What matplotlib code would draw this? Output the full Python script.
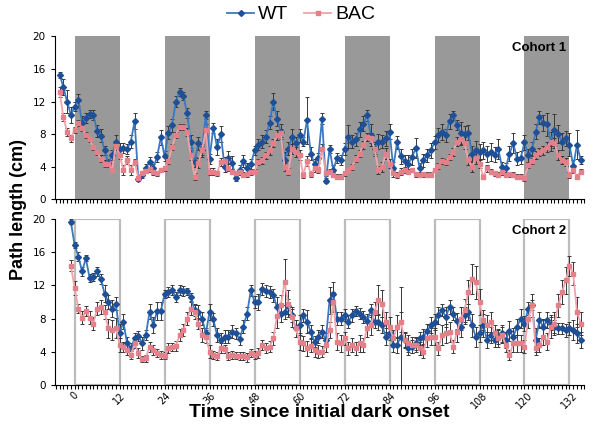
"""Hourly path length for WT and BAC mice, two cohorts."""

import numpy as np
from matplotlib import pyplot as plt
from matplotlib.patches import Rectangle
from matplotlib.ticker import MultipleLocator

plt.switch_backend("Agg")

# hours since first dark onset (cohort 1 starts at -4 h, cohort 2 at -1 h)
hours_c1 = np.arange(-4, 136)
hours_c2 = np.arange(-1, 136)
dark_starts = [0, 24, 48, 72, 96, 120]
dark_len = 12
tick_hours = [0, 12, 24, 36, 48, 60, 72, 84, 96, 108, 120, 132]

wt_c1 = [15.3, 13.8, 12.0, 10.4,
         11.4, 12.2, 9.4, 10.0, 10.5, 10.4, 8.4, 7.8, 6.0, 4.5, 5.4, 7.1,
         6.2, 6.3, 6.2, 7.1, 9.6, 2.5, 3.0, 3.8, 4.6, 3.9, 5.2, 7.6,
         5.3, 8.2, 9.1, 12.0, 13.2, 12.7, 10.6, 7.1, 4.6, 6.9, 6.0, 10.4,
         5.0, 8.8, 6.4, 8.0, 4.0, 5.1, 4.5, 2.6, 3.6, 4.7, 3.9, 4.3,
         6.0, 6.7, 7.1, 7.7, 9.4, 12.0, 9.9, 8.3, 4.8, 6.2, 7.7, 6.9,
         7.9, 7.1, 9.7, 5.6, 4.4, 5.1, 9.9, 2.3, 6.2, 3.6, 5.1, 4.8,
         6.2, 7.7, 7.1, 7.4, 8.6, 9.3, 10.3, 7.9, 6.2, 7.1, 7.1, 7.5,
         8.3, 3.9, 7.0, 5.3, 4.7, 4.4, 5.2, 6.3, 3.9, 4.8, 5.4, 6.0,
         7.0, 7.9, 8.3, 7.9, 9.6, 10.3, 9.1, 8.1, 8.0, 8.2, 5.6, 6.0,
         5.8, 6.0, 5.6, 5.8, 5.5, 6.2, 4.0, 3.9, 5.6, 6.9, 5.0, 5.1,
         7.0, 5.4, 6.2, 8.3, 10.1, 9.4, 9.2, 7.1, 8.5, 8.0, 7.1, 7.5,
         6.7, 4.1, 6.7, 4.8]
wt_c1_err = [0.4, 1.0, 1.4, 1.0,
             0.6, 0.7, 0.8, 0.6, 0.5, 0.6, 0.7, 0.8, 0.6, 0.5, 0.6, 0.8,
             0.7, 0.6, 0.6, 0.8, 1.0, 0.3, 0.4, 0.5, 0.6, 0.5, 0.6, 0.9,
             0.6, 0.8, 0.8, 0.7, 0.5, 0.5, 0.6, 0.8, 0.6, 0.8, 0.8, 0.5,
             0.6, 0.6, 1.0, 1.0, 0.6, 0.8, 0.8, 0.4, 0.6, 0.7, 0.6, 0.6,
             0.6, 0.7, 0.8, 0.8, 0.8, 1.0, 0.9, 0.9, 1.0, 0.8, 0.9, 0.8,
             0.8, 0.6, 2.9, 0.8, 0.6, 0.6, 0.7, 0.3, 0.5, 0.6, 0.6, 0.6,
             0.7, 1.4, 0.8, 0.8, 0.9, 0.9, 0.7, 1.3, 0.9, 0.9, 0.8, 0.9,
             0.9, 0.7, 0.8, 0.9, 0.8, 1.0, 1.0, 1.2, 0.6, 0.8, 0.8, 0.9,
             0.8, 0.9, 1.0, 0.8, 0.9, 0.5, 0.6, 1.4, 1.0, 0.9, 0.9, 1.2,
             1.0, 1.1, 1.0, 1.1, 0.9, 1.2, 0.6, 0.6, 0.9, 1.2, 0.8, 0.8,
             0.9, 0.8, 0.9, 0.9, 0.8, 1.0, 1.4, 1.2, 2.0, 1.1, 1.0, 0.9,
             1.4, 0.7, 1.8, 0.5]
bac_c1 = [13.2, 10.1, 8.3, 7.5,
          8.5, 9.4, 8.8, 7.9, 7.4, 6.4, 5.8, 5.0, 4.4, 4.3, 3.6, 6.6,
          5.5, 3.6, 4.8, 3.6, 4.6, 2.6, 3.2, 3.5, 3.7, 3.3, 3.2, 3.6,
          3.8, 4.7, 6.4, 7.9, 8.9, 8.9, 8.3, 5.4, 2.8, 4.5, 6.0, 8.5,
          3.4, 3.4, 3.2, 4.6, 4.7, 3.9, 3.4, 3.2, 3.4, 3.0, 3.1, 3.3,
          3.4, 4.6, 4.8, 5.4, 6.0, 6.9, 7.9, 8.1, 4.0, 3.4, 6.2, 5.8,
          5.4, 3.0, 4.7, 3.1, 3.8, 3.6, 6.2, 3.2, 3.4, 3.0, 2.8, 2.8,
          3.2, 3.6, 4.0, 5.0, 5.6, 6.7, 7.7, 7.5, 6.2, 3.6, 4.0, 5.6,
          4.4, 3.2, 3.0, 3.4, 3.6, 3.4, 3.6, 3.1, 3.0, 3.1, 3.0, 3.0,
          3.6, 4.1, 4.7, 4.6, 5.2, 5.8, 7.1, 7.4, 6.9, 4.8, 4.0, 5.1,
          4.4, 2.8, 3.8, 3.4, 3.2, 3.0, 3.3, 3.0, 3.1, 3.0, 2.8, 2.8,
          2.6, 4.2, 4.7, 5.4, 5.8, 6.0, 6.4, 7.1, 6.9, 5.4, 4.8, 4.6,
          3.0, 3.6, 2.8, 3.4]
bac_c1_err = [0.6, 0.5, 0.5, 0.4,
              0.4, 0.4, 0.4, 0.4, 0.3, 0.3, 0.3, 0.4, 0.4, 0.3, 0.3, 0.6,
              0.5, 0.6, 0.5, 0.6, 0.4, 0.3, 0.3, 0.3, 0.3, 0.3, 0.3, 0.3,
              0.3, 0.4, 0.4, 0.4, 0.4, 0.4, 0.5, 0.6, 0.4, 0.6, 0.6, 0.7,
              0.4, 0.4, 0.3, 0.5, 0.5, 0.4, 0.3, 0.3, 0.3, 0.3, 0.3, 0.3,
              0.3, 0.4, 0.4, 0.4, 0.5, 0.5, 0.6, 0.5, 0.5, 0.4, 0.6, 0.6,
              0.6, 0.4, 0.6, 0.4, 0.4, 0.4, 0.6, 0.3, 0.3, 0.3, 0.3, 0.3,
              0.3, 0.3, 0.4, 0.4, 0.4, 0.5, 0.5, 0.6, 0.6, 0.5, 0.6, 0.7,
              0.6, 0.4, 0.4, 0.4, 0.4, 0.3, 0.3, 0.3, 0.3, 0.3, 0.3, 0.3,
              0.3, 0.4, 0.4, 0.4, 0.4, 0.5, 0.6, 0.6, 0.7, 0.6, 0.6, 0.7,
              0.6, 0.3, 0.4, 0.3, 0.3, 0.3, 0.3, 0.3, 0.3, 0.3, 0.3, 0.3,
              0.3, 0.4, 0.4, 0.5, 0.5, 0.5, 0.6, 0.6, 0.6, 0.6, 0.5, 0.5,
              0.4, 0.4, 0.3, 0.3]

wt_c2 = [19.7,
         16.9, 15.5, 13.7, 15.3, 12.9, 13.0, 13.7, 12.8, 11.0, 10.0, 9.2, 9.8,
         6.2, 7.6, 5.0, 4.4, 5.6, 5.9, 5.0, 6.0, 8.8, 7.2, 8.9, 8.9,
         11.0, 11.2, 11.4, 10.6, 11.4, 11.3, 11.3, 10.6, 9.0, 8.8, 8.0, 6.2,
         8.8, 7.9, 6.0, 5.4, 5.8, 5.8, 6.4, 6.2, 5.5, 7.0, 8.6, 11.4,
         10.0, 10.0, 11.6, 11.3, 11.2, 10.8, 9.4, 8.6, 8.8, 9.5, 8.4, 6.8,
         7.2, 8.4, 7.6, 6.4, 5.2, 5.8, 6.4, 5.4, 10.2, 11.0, 8.0, 8.0,
         8.4, 7.6, 8.4, 8.9, 8.6, 8.2, 7.7, 9.0, 7.6, 7.6, 7.2, 5.8,
         6.2, 4.8, 4.8, 5.8, 5.4, 4.4, 4.6, 5.0, 5.6, 5.8, 6.5, 7.2,
         7.6, 8.4, 9.0, 8.2, 9.4, 8.6, 7.7, 7.0, 8.4, 8.8, 7.2, 5.8,
         6.2, 7.2, 5.4, 6.0, 5.4, 5.8, 6.2, 5.4, 6.5, 5.8, 7.0, 8.0,
         7.4, 9.2, 9.6, 5.4, 7.8, 7.0, 7.8, 7.4, 7.0, 6.8, 6.8, 6.6,
         6.8, 6.6, 6.2, 5.4]
wt_c2_err = [0.3,
             0.4, 0.6, 0.5, 0.4, 0.5, 0.5, 0.5, 0.6, 1.0, 0.9, 1.0, 0.8,
             1.2, 0.9, 0.8, 0.7, 0.7, 0.6, 0.8, 0.6, 0.9, 1.0, 1.1, 1.1,
             0.5, 0.6, 0.6, 0.6, 0.6, 0.6, 0.4, 0.5, 0.7, 0.8, 0.8, 0.6,
             1.0, 0.8, 0.8, 0.8, 0.8, 0.8, 0.8, 0.7, 0.7, 0.8, 0.8, 0.7,
             0.7, 1.0, 0.7, 0.7, 0.7, 0.8, 1.2, 1.0, 0.8, 0.9, 0.8, 1.0,
             1.2, 0.8, 1.4, 0.8, 0.7, 0.8, 0.8, 0.8, 1.6, 1.4, 0.8, 0.8,
             0.7, 0.8, 0.8, 0.6, 0.7, 0.7, 0.8, 0.8, 0.8, 1.0, 1.0, 1.0,
             0.8, 0.8, 1.0, 6.0, 0.9, 0.8, 0.8, 0.8, 0.8, 0.9, 0.9, 1.0,
             1.0, 1.0, 0.7, 1.2, 0.8, 0.8, 1.0, 1.2, 1.0, 1.0, 1.4, 1.2,
             1.0, 1.4, 1.0, 1.0, 0.9, 0.9, 1.0, 1.0, 1.2, 1.0, 1.0, 1.2,
             0.9, 0.8, 0.6, 1.4, 1.0, 1.0, 1.0, 0.8, 0.8, 0.7, 0.7, 0.8,
             0.8, 1.2, 1.2, 1.0]
bac_c2 = [14.4,
          11.7, 9.2, 8.1, 8.9, 8.1, 7.4, 9.2, 9.4, 8.8, 6.8, 6.6, 6.9,
          4.8, 4.6, 4.2, 3.6, 5.0, 3.8, 3.1, 3.2, 4.6, 4.2, 3.8, 3.6,
          3.5, 4.4, 4.6, 4.7, 6.0, 6.6, 8.0, 9.2, 8.8, 7.4, 6.0, 5.8,
          4.0, 3.6, 3.5, 4.4, 4.3, 3.5, 3.6, 3.5, 3.5, 3.5, 3.3, 3.8,
          3.6, 3.8, 4.8, 4.4, 4.6, 5.6, 8.3, 9.6, 12.4, 9.8, 8.2, 6.8,
          5.2, 5.0, 4.4, 4.7, 4.2, 4.0, 4.0, 4.8, 6.6, 10.0, 5.2, 5.0,
          5.6, 4.4, 4.8, 4.4, 5.0, 4.8, 6.8, 7.2, 8.8, 10.2, 9.8, 7.6,
          7.0, 5.6, 7.0, 7.6, 5.4, 5.0, 4.8, 4.8, 4.4, 4.0, 5.6, 5.8,
          5.8, 4.4, 6.0, 6.2, 6.4, 4.6, 6.4, 8.0, 9.0, 11.2, 12.8, 12.4,
          10.0, 7.8, 7.2, 7.6, 6.2, 5.6, 6.0, 4.8, 3.6, 5.0, 5.0, 5.0,
          4.6, 8.0, 9.6, 4.4, 4.8, 5.8, 5.2, 7.0, 7.4, 9.6, 11.2, 12.6,
          14.4, 13.4, 8.8, 7.4]
bac_c2_err = [0.7,
              0.8, 0.5, 0.8, 0.6, 0.8, 0.8, 0.8, 0.8, 0.8, 1.2, 1.2, 1.2,
              0.8, 0.6, 0.6, 0.5, 0.6, 0.6, 0.4, 0.4, 0.6, 0.6, 0.5, 0.5,
              0.4, 0.6, 0.5, 0.6, 0.7, 0.7, 0.8, 0.8, 0.8, 0.7, 0.8, 0.8,
              0.8, 0.5, 0.5, 0.6, 0.5, 0.5, 0.5, 0.4, 0.5, 0.5, 0.5, 0.5,
              0.5, 0.6, 0.6, 0.6, 0.7, 0.8, 1.4, 1.2, 2.8, 1.6, 1.2, 1.0,
              1.0, 0.9, 0.9, 0.8, 0.8, 0.8, 0.7, 0.8, 1.0, 1.2, 1.0, 1.0,
              0.8, 0.8, 0.8, 0.8, 1.0, 0.8, 1.0, 1.2, 1.2, 1.8, 1.6, 1.2,
              1.2, 1.0, 1.4, 1.2, 1.0, 1.0, 1.0, 0.9, 0.8, 0.8, 1.0, 1.0,
              1.0, 0.8, 1.2, 1.2, 1.2, 0.8, 1.2, 1.4, 1.4, 1.4, 1.8, 2.0,
              1.6, 1.2, 1.2, 1.2, 1.0, 1.0, 1.0, 0.8, 0.6, 1.0, 1.0, 1.0,
              0.8, 1.2, 1.4, 0.8, 0.8, 1.0, 1.0, 1.4, 1.4, 1.4, 1.4, 1.6,
              1.2, 1.4, 1.8, 1.4]

WT_LINE = "#3a78bf"
WT_MARK = "#1f4f96"
BAC_LINE = "#f2a3aa"
BAC_MARK = "#e3808a"
ERR_COLOR = "#383838"


def draw_series(ax, x, y, err, line_c, mark_c, marker, label):
    ax.errorbar(x, y, yerr=err, fmt="none", ecolor=ERR_COLOR, elinewidth=0.7,
                capsize=1.6, capthick=0.7, zorder=3)
    ax.plot(x, y, color=line_c, linewidth=1.3, marker=marker, markersize=3,
            markerfacecolor=mark_c, markeredgecolor=mark_c, zorder=4, label=label)


def style_axis(ax, show_labels):
    ax.set_xlim(-5.3, 136)
    ax.set_ylim(0, 20)
    ax.set_yticks([0, 4, 8, 12, 16, 20])
    ax.xaxis.set_major_locator(plt.FixedLocator(tick_hours))
    ax.xaxis.set_minor_locator(MultipleLocator(1))
    ax.tick_params(axis="x", which="both", direction="out", length=3, width=0.8, pad=1)
    ax.tick_params(axis="y", direction="out", length=3, width=0.8, labelsize=7.5)
    ax.spines["top"].set_visible(False)
    ax.spines["right"].set_visible(False)
    if show_labels:
        ax.set_xticklabels([str(h) for h in tick_hours], rotation=45, fontsize=7,
                           ha="center")
    else:
        ax.set_xticklabels([])


fig = plt.figure(figsize=(6.02, 4.45), dpi=100)
ax1 = fig.add_axes([0.0909, 0.552, 0.88, 0.366])
ax2 = fig.add_axes([0.0909, 0.1355, 0.88, 0.3717])

for start in dark_starts:
    ax1.add_patch(Rectangle((start, 0), dark_len, 20, facecolor="#999999",
                            edgecolor="none", zorder=1))
    ax2.add_patch(Rectangle((start, 0), dark_len, 20, facecolor="none",
                            edgecolor="#bcbcbc", linewidth=1.6, zorder=1))

draw_series(ax1, hours_c1, wt_c1, wt_c1_err, WT_LINE, WT_MARK, "D", "WT")
draw_series(ax1, hours_c1, bac_c1, bac_c1_err, BAC_LINE, BAC_MARK, "s", "BAC")
draw_series(ax2, hours_c2, wt_c2, wt_c2_err, WT_LINE, WT_MARK, "D", "WT")
draw_series(ax2, hours_c2, bac_c2, bac_c2_err, BAC_LINE, BAC_MARK, "s", "BAC")

style_axis(ax1, False)
style_axis(ax2, True)

ax1.text(0.965, 0.93, "Cohort 1", transform=ax1.transAxes, ha="right", va="center",
         fontsize=9.5, fontweight="bold", family="Liberation Sans")
ax2.text(0.965, 0.93, "Cohort 2", transform=ax2.transAxes, ha="right", va="center",
         fontsize=9.5, fontweight="bold", family="Liberation Sans")

handles, labels = ax1.get_legend_handles_labels()
fig.legend(handles, labels, loc="center", bbox_to_anchor=(0.5, 0.967), ncol=2,
           frameon=False, handlelength=1.4, handletextpad=0.2,
           columnspacing=0.8, prop={"family": "Liberation Sans", "size": 14})

fig.text(0.03, 0.53, "Path length (cm)", rotation=90, ha="center", va="center",
         fontsize=13, fontweight="bold", family="Liberation Sans")
fig.text(0.53, 0.072, "Time since initial dark onset", ha="center", va="center",
         fontsize=14, fontweight="bold", family="Liberation Sans")

fig.savefig("out.png", dpi=100)
